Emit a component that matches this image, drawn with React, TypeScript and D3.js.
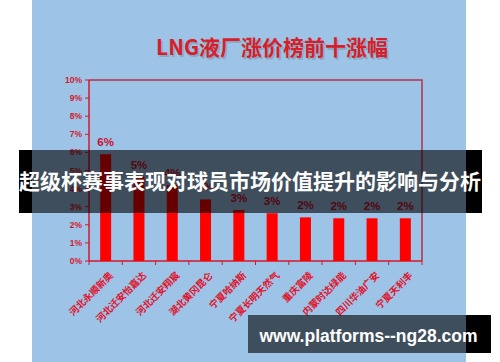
import React from "react";
import * as d3 from "d3";

const categories = ["河北永顺新奥", "河北迁安怡嘉达", "河北迁安翔宸", "湖北黄冈昆仑", "宁夏哈纳斯", "宁夏长明天然气", "重庆富陵", "内蒙时达绿能", "四川华油广安", "宁夏天利丰"];
const values = [5.9, 4.65, 4.2, 3.4, 2.82, 2.64, 2.41, 2.36, 2.36, 2.36];
const valueLabels = ["6%", "5%", "4%", "3%", "3%", "3%", "2%", "2%", "2%", "2%"];
const yTicks = [0, 1, 2, 3, 4, 5, 6, 7, 8, 9, 10];
const title = "LNG液厂涨价榜前十涨幅";
const bannerText = "超级杯赛事表现对球员市场价值提升的影响与分析";
const urlText = "www.platforms--ng28.com";

export default function App() {
  const W = 500, H = 362;
  const left = 89, right = 422, top = 80, bottom = 261;
  const x = d3.scaleBand<string>().domain(categories).range([left, right]).padding(0);
  const y = d3.scaleLinear().domain([0, 10]).range([bottom, top]);
  const barW = 11;
  const red = "#d4182c";
  const bounds = categories.map((_, i) => left + i * x.step()).concat([right]);
  return (
    <svg width={W} height={H} style={{ position: "absolute", left: 0, top: 0, display: "block" }}>
      <rect x={0} y={0} width={W} height={H} fill="#ffffff" />
      <rect x={32} y={0} width={434} height={H} fill="#9dc3e6" />
      {/* title */}
      <text x={273.5} y={56.5} textAnchor="middle" fontFamily="'Noto Sans CJK SC', 'Liberation Sans', sans-serif" fontWeight={700} fontSize={21} fill="#7a8ea0" opacity={0.5}>{title}</text>
      <text x={272} y={55} textAnchor="middle" fontFamily="'Noto Sans CJK SC', 'Liberation Sans', sans-serif" fontWeight={700} fontSize={21} fill="#d81e2a">{title}</text>
      {/* frame */}
      <path d={`M${left},${top}H${right}V${bottom}`} fill="none" stroke="#b8304a" strokeWidth={1.5} />
      <line x1={left} y1={top} x2={left} y2={bottom} stroke={red} strokeWidth={1.5} />
      <line x1={left} y1={bottom} x2={right} y2={bottom} stroke={red} strokeWidth={1.5} />
      {yTicks.map((t) => (
        <g key={t}>
          <line x1={left - 4} x2={left} y1={y(t)} y2={y(t)} stroke={red} strokeWidth={1} />
          <text x={82} y={y(t) + 3} textAnchor="end" fontFamily="'Liberation Sans', Arial, sans-serif" fontWeight={700} fontSize={8.5} fill={red}>{t}%</text>
        </g>
      ))}
      {bounds.map((b, i) => (
        <line key={i} x1={b} x2={b} y1={bottom} y2={bottom + 4} stroke={red} strokeWidth={1} />
      ))}
      {categories.map((c, i) => {
        const cx = (x(c) as number) + x.bandwidth() / 2;
        return (
          <g key={c}>
            <rect x={cx - barW / 2} y={y(values[i])} width={barW} height={bottom - y(values[i])} fill="#ff0000" />
            <text x={cx} y={y(values[i]) - 8} textAnchor="middle" fontFamily="'Liberation Sans', Arial, sans-serif" fontWeight={700} fontSize={11.5} fill="#c8102e">{valueLabels[i]}</text>
            <text transform={`translate(${cx + 8},${bottom + 15}) rotate(-45)`} textAnchor="end" fontFamily="'Noto Sans CJK SC', sans-serif" fontWeight={700} fontSize={9.5} fill="#e0102a">{c}</text>
          </g>
        );
      })}
      {/* main banner */}
      <rect x={19} y={150} width={13} height={63} fill="#000" />
      <rect x={466} y={150} width={16} height={63} fill="#000" />
      <rect x={32} y={150} width={434} height={63} fill="#000" opacity={0.6} />
      <text x={250} y={189} textAnchor="middle" fontFamily="'Noto Sans CJK SC', sans-serif" fontWeight={700} fontSize={21} fill="#ffffff">{bannerText}</text>
      {/* url banner */}
      <rect x={248} y={315} width={218} height={38} fill="#000" opacity={0.6} />
      <rect x={466} y={315} width={25} height={38} fill="#000" />
      <text x={368.5} y={342} textAnchor="middle" fontFamily="'Liberation Sans', Arial, sans-serif" fontWeight={700} fontSize={17.5} fill="#ffffff">{urlText}</text>
    </svg>
  );
}
